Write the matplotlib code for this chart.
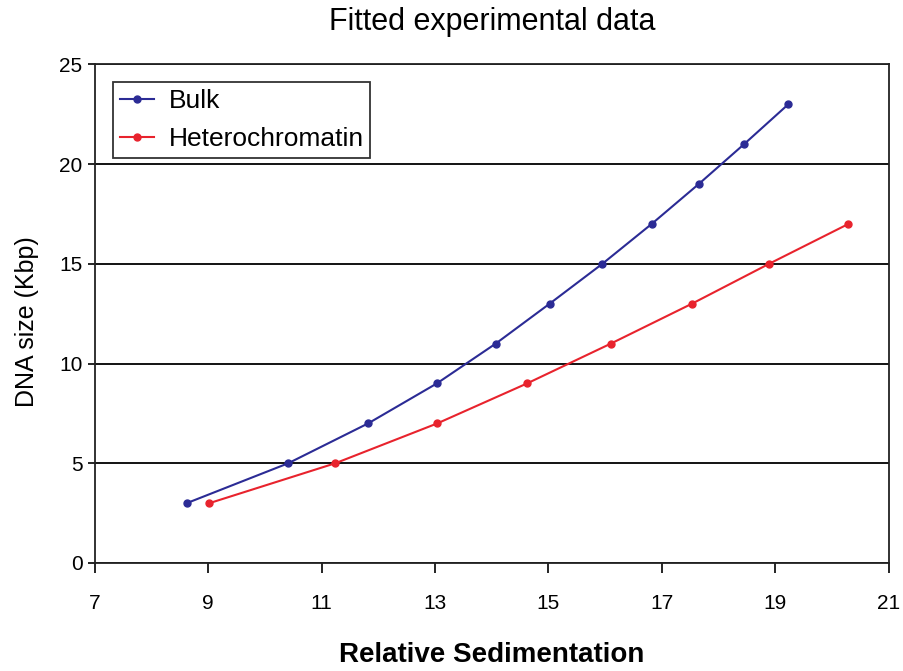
import matplotlib
matplotlib.use("Agg")
import matplotlib.pyplot as plt

plt.rcParams['font.family'] = ['Liberation Sans', 'DejaVu Sans']

# sedimentation vs DNA size
bulk_x = [8.62, 10.41, 11.82, 13.03, 14.07, 15.02, 15.95, 16.82, 17.65, 18.45, 19.23]
bulk_y = [3, 5, 7, 9, 11, 13, 15, 17, 19, 21, 23]
het_x = [9.02, 11.24, 13.04, 14.62, 16.10, 17.53, 18.89, 20.29]
het_y = [3, 5, 7, 9, 11, 13, 15, 17]

xticks = [7, 9, 11, 13, 15, 17, 19, 21]
yticks = [0, 5, 10, 15, 20, 25]

fig = plt.figure(figsize=(9.04, 6.71), dpi=100)
ax = fig.add_axes([0.105, 0.161, 0.878, 0.743])

ax.plot(bulk_x, bulk_y, color='#2B2B95', lw=1.5, marker='o', ms=5, label='Bulk')
ax.plot(het_x, het_y, color='#E8232D', lw=1.5, marker='o', ms=5, label='Heterochromatin')

ax.set_xlim(7, 21)
ax.set_ylim(0, 25)
ax.set_xticks(xticks)
ax.set_yticks(yticks)
ax.tick_params(labelsize=15, direction='out', width=1.2)
ax.tick_params(axis='x', length=7, pad=15)
ax.tick_params(axis='y', length=5, pad=4)
ax.yaxis.grid(True, color='black', lw=1.3)
ax.set_axisbelow(True)
for s in ax.spines.values():
    s.set_linewidth(1.3)
    s.set_color('#222222')

ax.set_title('Fitted experimental data', fontsize=22, pad=25)
ax.set_xlabel('Relative Sedimentation', fontsize=20, fontweight='bold', labelpad=21)
ax.set_ylabel('DNA size (Kbp)', fontsize=18)
ax.yaxis.set_label_coords(-0.07, 0.485)

leg = ax.legend(loc='upper left', bbox_to_anchor=(0.023, 0.964), fontsize=19,
                frameon=True, fancybox=False, borderpad=0.25, handlelength=1.3,
                handletextpad=0.55, labelspacing=0.55, borderaxespad=0)
leg.get_frame().set_edgecolor('black')
leg.get_frame().set_linewidth(1.3)

fig.savefig('out.png', dpi=100)
